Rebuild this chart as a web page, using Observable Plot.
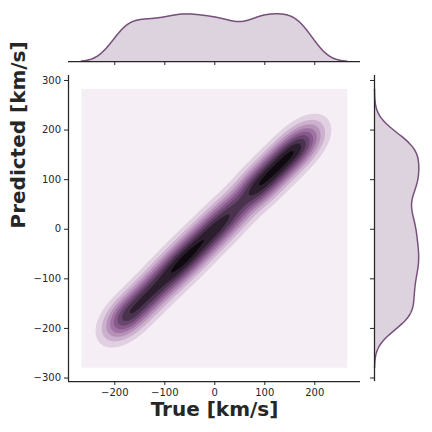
<!DOCTYPE html>
<html>
<head>
<meta charset="utf-8">
<script src="https://cdn.jsdelivr.net/npm/d3@7"></script>
<script src="https://cdn.jsdelivr.net/npm/@observablehq/plot@0.6"></script>
<style>
  html, body { margin: 0; padding: 0; background: #ffffff; }
  #wrap { position: relative; width: 432px; height: 432px; background: #ffffff; overflow: hidden; }
  #wrap > svg, #wrap > figure { position: absolute; margin: 0; }
</style>
</head>
<body>
<div id="wrap"></div>
<script>
// ---- data (weighted samples along the diagonal) ----
const trueKms = [-220, -200, -180, -160, -140, -120, -100, -80, -60, -40, -20, 0, 20, 40, 60, 80, 100, 120, 140, 160, 180, 200, 220];
const predKms = [-220, -200, -180, -160, -140, -120, -100, -80, -60, -40, -20, 0, 20, 40, 60, 80, 100, 120, 140, 160, 180, 200, 220];
const sampleWeight = [0.14, 0.505, 0.92, 0.90, 0.91, 0.91, 0.93, 1.02, 1.04, 1.02, 0.965, 0.977, 0.917, 0.828, 0.739, 1.0, 1.02, 1.025, 1.025, 1.037, 0.82, 0.389, 0.073];
const xTicks = [-200, -100, 0, 100, 200];
const yTicks = [-300, -200, -100, 0, 100, 200, 300];
const xLabel = "True [km/s]";
const yLabel = "Predicted [km/s]";

// ---- settings ----
const baseColor = "#774f7b";
const ink = "#262626";
const bw = 23;             // kernel bandwidth (km/s)
const nLayers = 10;
const X_DOMAIN = [-292.6, 291.4];
const Y_DOMAIN = [-307, 310];
const GRID = {x1: -266.6, x2: 264.8, y1: -279.4, y2: 283};
const font = "DejaVu Sans, Liberation Sans, sans-serif";
const fmt = d => d < 0 ? "\u2212" + Math.abs(d) : String(d);

function density(x, y) {
  let s = 0;
  for (let i = 0; i < trueKms.length; ++i) {
    const dx = x - trueKms[i], dy = y - predKms[i];
    s += sampleWeight[i] * Math.exp(-(dx * dx + dy * dy) / (2 * bw * bw));
  }
  return s;
}
function marginal(vals, t) {
  let s = 0;
  for (let i = 0; i < vals.length; ++i) {
    const d = t - vals[i];
    s += sampleWeight[i] * Math.exp(-(d * d) / (2 * bw * bw));
  }
  return s;
}

const maxD = d3.max(d3.range(-250, 250.5, 0.5), t => density(t, t));
const step = maxD / 9.4;
const levels = d3.range(nLayers).map(k => k * step);
const baseHsl = d3.hsl(baseColor);
const cmap = t => d3.hsl(baseHsl.h, baseHsl.s, 1 - t).formatHex();

const wrap = document.getElementById("wrap");
const svgStyle = {fontFamily: font, fontSize: "10px", color: ink, background: "transparent", overflow: "visible"};

// ---- main joint plot ----
const mainPlot = Plot.plot({
  width: 432, height: 432,
  marginLeft: 68, marginRight: 72, marginTop: 75, marginBottom: 51,
  style: svgStyle,
  x: {domain: X_DOMAIN},
  y: {domain: Y_DOMAIN},
  color: {type: "linear", domain: [-step / 2, (nLayers - 0.5) * step], interpolate: cmap},
  marks: [
    Plot.contour({fill: density, ...GRID, thresholds: levels, pixelSize: 1}),
    Plot.ruleY([Y_DOMAIN[0]], {stroke: ink, strokeWidth: 1.25}),
    Plot.ruleX([X_DOMAIN[0]], {stroke: ink, strokeWidth: 1.25}),
    Plot.axisX(xTicks, {tickSize: 4, tickPadding: 3, tickFormat: fmt, label: null, strokeWidth: 1}),
    Plot.axisY(yTicks, {tickSize: 4, tickPadding: 3.5, tickFormat: fmt, label: null, strokeWidth: 1}),
    Plot.text([xLabel], {frameAnchor: "bottom", dy: 34, fontSize: 20, fontWeight: "bold", fill: ink}),
    Plot.text([yLabel], {frameAnchor: "left", dx: -50.4, rotate: -90, fontSize: 20, fontWeight: "bold", fill: ink})
  ]
});
mainPlot.style.left = "0px"; mainPlot.style.top = "0px";
wrap.appendChild(mainPlot);

// ---- top marginal ----
const xsMarg = d3.range(GRID.x1, GRID.x2 + 0.01, 1).map(x => ({x, d: marginal(trueKms, x)}));
const topPlot = Plot.plot({
  width: 432, height: 70,
  marginLeft: 68, marginRight: 72, marginTop: 13.3, marginBottom: 9,
  style: svgStyle,
  x: {domain: X_DOMAIN},
  y: {domain: [0, d3.max(xsMarg, d => d.d)], axis: null},
  marks: [
    Plot.areaY(xsMarg, {x: "x", y: "d", fill: baseColor, fillOpacity: 0.25}),
    Plot.lineY(xsMarg, {x: "x", y: "d", stroke: baseColor, strokeWidth: 1.5}),
    Plot.ruleY([0], {stroke: ink, strokeWidth: 1.25}),
    Plot.axisX(xTicks, {tickSize: 4, tickFormat: () => "", label: null})
  ]
});
topPlot.style.left = "0px"; topPlot.style.top = "0px";
wrap.appendChild(topPlot);

// ---- right marginal ----
const ysMarg = d3.range(GRID.y1, GRID.y2 + 0.01, 1).map(y => ({y, d: marginal(predKms, y)}));
const rightPlot = Plot.plot({
  width: 72, height: 432,
  marginLeft: 14, marginRight: 13.7, marginTop: 75, marginBottom: 51,
  style: svgStyle,
  x: {domain: [0, d3.max(ysMarg, d => d.d)], axis: null},
  y: {domain: Y_DOMAIN},
  marks: [
    Plot.areaX(ysMarg, {y: "y", x: "d", fill: baseColor, fillOpacity: 0.25}),
    Plot.lineX(ysMarg, {y: "y", x: "d", stroke: baseColor, strokeWidth: 1.5}),
    Plot.ruleX([0], {stroke: ink, strokeWidth: 1.25}),
    Plot.axisY(yTicks, {anchor: "left", tickSize: 4, tickFormat: () => "", label: null})
  ]
});
rightPlot.style.left = "360px"; rightPlot.style.top = "0px";
wrap.appendChild(rightPlot);
</script>
</body>
</html>
